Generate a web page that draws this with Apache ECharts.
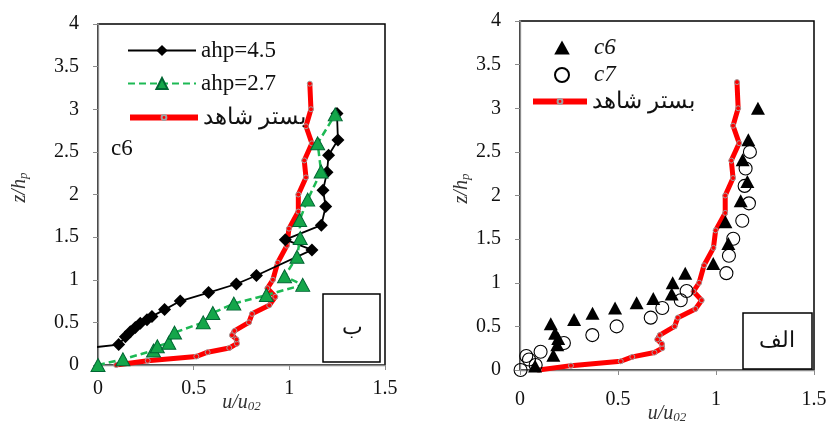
<!DOCTYPE html>
<html><head><meta charset="utf-8">
<script src="https://cdn.jsdelivr.net/npm/echarts@6/dist/echarts.min.js"></script>
<style>html,body{margin:0;padding:0;background:#fff}#c{width:828px;height:422px}</style>
</head><body><div id="c"></div>
<script>
// Reference profile (بستر شاهد), shared by both panels
var refU = [0.095,0.26,0.514,0.573,0.686,0.726,0.724,0.70,0.713,0.789,0.805,0.895,0.927,0.885,0.914,0.939,0.987,0.998,1.047,1.047,1.087,1.078,1.118,1.087,1.113,1.107];
var refZ = [0,0.05,0.1,0.15,0.2,0.25,0.3,0.35,0.4,0.5,0.6,0.7,0.8,0.9,1.0,1.2,1.4,1.6,1.8,2.0,2.2,2.4,2.6,2.8,3.0,3.3];
// Left panel (ب)
var ahp45U = [-0.05,0.108,0.143,0.169,0.195,0.221,0.256,0.282,0.348,0.430,0.578,0.723,0.828,1.118,0.979,1.167,1.19,1.176,1.197,1.205,1.254,1.249];
var ahp45Z = [0.2,0.24,0.33,0.39,0.44,0.49,0.53,0.57,0.65,0.75,0.85,0.95,1.05,1.35,1.47,1.64,1.86,2.05,2.26,2.46,2.64,2.95];
var ahp27U = [0,0.13,0.29,0.31,0.37,0.40,0.55,0.60,0.71,0.88,1.07,0.975,1.04,1.057,1.054,1.096,1.166,1.148,1.24];
var ahp27Z = [0,0.067,0.17,0.22,0.26,0.38,0.50,0.61,0.72,0.82,0.94,1.04,1.27,1.49,1.70,1.94,2.27,2.60,2.94];
// Right panel (الف)
var c6U = [0.077,0.17,0.19,0.195,0.179,0.157,0.276,0.37,0.485,0.595,0.68,0.774,0.779,0.843,0.986,1.063,1.048,1.126,1.16,1.136,1.165,1.214];
var c6Z = [0.046,0.17,0.29,0.36,0.42,0.53,0.58,0.65,0.71,0.77,0.82,0.87,1.0,1.11,1.22,1.45,1.70,1.94,2.16,2.41,2.64,3.0];
var c7U = [0.003,0.08,0.046,0.032,0.105,0.224,0.369,0.493,0.667,0.726,0.82,0.85,1.053,1.066,1.088,1.134,1.168,1.146,1.151,1.173];
var c7Z = [0,0.057,0.12,0.16,0.21,0.31,0.40,0.50,0.60,0.71,0.80,0.905,1.11,1.31,1.505,1.71,1.91,2.11,2.31,2.50];
var xTicks = [0,0.5,1,1.5];
var yTicks = [0,0.5,1,1.5,2,2.5,3,3.5,4];

function pairs(u,z){return u.map(function(v,i){return [v,z[i]];});}
var SERIF = 'Liberation Serif';
var REF = 'بستر شاهد';
var TRI = 'path://M5,0 L10,9 L0,9 Z';

function nameRich(){
  return {a:{fontFamily:SERIF,fontStyle:'italic',fontSize:20,color:'#333',lineHeight:20,verticalAlign:'top'},
          b:{fontFamily:SERIF,fontStyle:'italic',fontSize:13,color:'#333',lineHeight:13,verticalAlign:'bottom',padding:[10,0,0,0]}};
}
function xAx(gi, gap, margin){
  return {gridIndex:gi,type:'value',min:0,max:1.5,interval:0.5,
    axisLine:{lineStyle:{color:'#8c8c8c',width:1.3}},
    axisTick:{show:true,length:5,lineStyle:{color:'#8c8c8c'}},
    splitLine:{show:false},
    axisLabel:{fontFamily:SERIF,fontSize:20,color:'#111',margin:margin,hideOverlap:false,
      formatter:function(v){return xTicks.indexOf(v)>=0?String(v):'';}},
    name:'{a|u/u}{b|02}',nameLocation:'middle',nameGap:gap,nameMoveOverlap:false,
    nameTextStyle:{rich:nameRich()}
  };
}
function yAx(gi, gap, margin){
  return {gridIndex:gi,type:'value',min:0,max:4,interval:0.5,
    axisLine:{lineStyle:{color:'#8c8c8c',width:1.3}},
    axisTick:{show:true,length:5,lineStyle:{color:'#8c8c8c'}},
    splitLine:{show:false},
    axisLabel:{fontFamily:SERIF,fontSize:20,color:'#111',margin:margin,hideOverlap:false,
      formatter:function(v){return yTicks.indexOf(v)>=0?String(v):'';}},
    name:'{a|z/h}{b|p}',nameLocation:'middle',nameGap:gap,nameRotate:90,nameMoveOverlap:false,
    nameTextStyle:{rich:nameRich(),padding:[0,0,0,14]}
  };
}

var refStyle = {type:'line',name:REF,symbol:'circle',symbolSize:5,
  lineStyle:{color:'#ff0000',width:5},
  itemStyle:{color:'#ff0000',borderColor:'#a0a0a0',borderWidth:1},
  z:3};
var legText = {fontFamily:SERIF,fontSize:23,color:'#111'};

var chart = echarts.init(document.getElementById('c'),null,{renderer:'canvas'});
chart.setOption({
  animation:false,
  backgroundColor:'#fff',
  grid:[
    {left:98,top:24,width:287,height:341,show:true,borderColor:'#000',borderWidth:1.5,backgroundColor:'transparent',outerBoundsMode:'none',containLabel:false},
    {left:520,top:21,width:294,height:349,show:true,borderColor:'#000',borderWidth:1.5,backgroundColor:'transparent',outerBoundsMode:'none',containLabel:false}
  ],
  xAxis:[xAx(0,28,14),xAx(1,34,20)],
  yAxis:[yAx(0,68,19),yAx(1,48,19)],
  legend:[
    {orient:'vertical',left:122,top:34,itemWidth:68,itemHeight:14,itemGap:10,
     data:['ahp=4.5','ahp=2.7'],textStyle:legText},
    {orient:'vertical',left:122,top:101,itemWidth:68,itemHeight:6,
     data:[{name:REF,lineStyle:{width:6}}],textStyle:legText},
    {orient:'vertical',left:549,top:31,itemWidth:54,itemHeight:14,itemGap:4.5,
     data:[{name:'c6',icon:TRI,textStyle:{fontStyle:'italic'}},{name:'c7',textStyle:{fontStyle:'italic'}}],
     textStyle:legText},
    {orient:'vertical',left:525,top:85,itemWidth:54,itemHeight:6,
     data:[{name:REF,lineStyle:{width:6}}],textStyle:legText}
  ],
  series:[
    Object.assign({},refStyle,{xAxisIndex:0,yAxisIndex:0,data:pairs(refU,refZ)}),
    {type:'line',name:'ahp=4.5',xAxisIndex:0,yAxisIndex:0,data:pairs(ahp45U,ahp45Z),
     symbol:'diamond',symbolSize:13,lineStyle:{color:'#000',width:1.8},itemStyle:{color:'#000'},z:4},
    {type:'line',name:'ahp=2.7',xAxisIndex:0,yAxisIndex:0,data:pairs(ahp27U,ahp27Z),
     symbol:'triangle',symbolSize:[14,13],lineStyle:{color:'#1db954',width:2.5,type:[7,4]},
     itemStyle:{color:'#14a64a',borderColor:'#063',borderWidth:1},z:5},
    Object.assign({},refStyle,{xAxisIndex:1,yAxisIndex:1,data:pairs(refU,refZ)}),
    {type:'scatter',name:'c6',xAxisIndex:1,yAxisIndex:1,data:pairs(c6U,c6Z),
     symbol:'triangle',symbolSize:[14,13],itemStyle:{color:'#000',opacity:1},z:4},
    {type:'scatter',name:'c7',xAxisIndex:1,yAxisIndex:1,data:pairs(c7U,c7Z),
     symbol:'circle',symbolSize:13,itemStyle:{color:'rgba(255,255,255,0)',borderColor:'#000',borderWidth:1.1,opacity:1},z:4}
  ],
  graphic:[
    {type:'text',left:111,top:137,style:{text:'c6',fontFamily:SERIF,fontSize:23,fill:'#111'}},
    {type:'rect',shape:{x:323,y:294,width:57,height:68},style:{fill:'#fff',stroke:'#000',lineWidth:1.5},z:10},
    {type:'text',x:352,y:328,style:{text:'ب',fontFamily:SERIF,fontSize:22,fill:'#111',align:'center',verticalAlign:'middle'},z:11},
    {type:'rect',shape:{x:743,y:313,width:69,height:56},style:{fill:'#fff',stroke:'#000',lineWidth:1.5},z:10},
    {type:'text',x:777,y:341,style:{text:'الف',fontFamily:SERIF,fontSize:22,fill:'#111',align:'center',verticalAlign:'middle'},z:11}
  ]
});
</script></body></html>
